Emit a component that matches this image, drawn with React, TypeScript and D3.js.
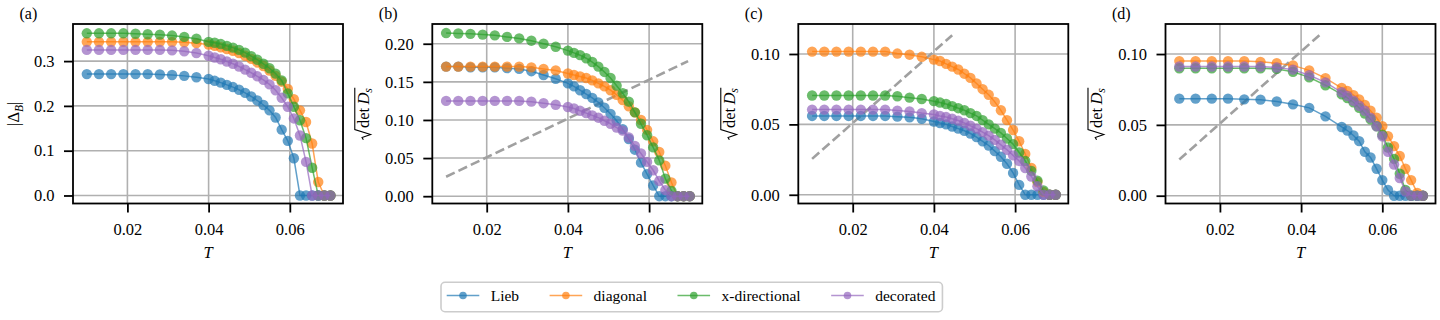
import { useEffect, useRef } from 'react'
import * as d3 from 'd3'

// temperature grids
const T_ABC = [0.01, 0.013, 0.016, 0.019, 0.022, 0.025, 0.028, 0.031, 0.034, 0.037,
  0.04, 0.0415, 0.043, 0.0445, 0.046, 0.0475, 0.049, 0.0505, 0.052, 0.0535, 0.055,
  0.0565, 0.058, 0.0595, 0.061, 0.0625, 0.064, 0.0655, 0.067, 0.0685, 0.07]
const T_D = [0.01, 0.014, 0.018, 0.022, 0.026, 0.03, 0.034, 0.038, 0.042, 0.046,
  0.05, 0.0514, 0.0529, 0.0543, 0.0557, 0.0571, 0.0586, 0.06, 0.0614, 0.0629, 0.0643,
  0.0657, 0.0671, 0.0686, 0.07]

// (a) |Delta_B|
const A_LIEB = [0.271, 0.271, 0.271, 0.271, 0.271, 0.271, 0.27, 0.269, 0.267, 0.264,
  0.26, 0.256, 0.252, 0.247, 0.242, 0.236, 0.229, 0.221, 0.212, 0.202, 0.19, 0.174, 0.147, 0.122, 0.083,
  0, 0, 0, 0, 0, 0]
const A_DIAG = [0.343, 0.343, 0.343, 0.343, 0.343, 0.343, 0.343, 0.343, 0.342, 0.34,
  0.337, 0.334, 0.331, 0.327, 0.323, 0.318, 0.312, 0.305, 0.297, 0.289, 0.279, 0.267, 0.254, 0.238,
  0.215, 0.19, 0.164, 0.116, 0.03, 0, 0]
const A_XDIR = [0.362, 0.362, 0.362, 0.362, 0.361, 0.36, 0.359, 0.357, 0.354, 0.35,
  0.343, 0.341, 0.338, 0.334, 0.33, 0.325, 0.319, 0.311, 0.303, 0.294, 0.284, 0.272, 0.257, 0.228,
  0.198, 0.168, 0.128, 0.062, 0, 0, 0]
const A_DECO = [0.325, 0.325, 0.325, 0.325, 0.325, 0.325, 0.325, 0.324, 0.322, 0.318,
  0.312, 0.308, 0.304, 0.299, 0.294, 0.288, 0.281, 0.274, 0.266, 0.258, 0.248, 0.235, 0.218, 0.198,
  0.172, 0.134, 0.075, 0, 0, 0, 0]

// (b) sqrt det D_s
const B_LIEB = [0.17, 0.17, 0.169, 0.169, 0.169, 0.168, 0.167, 0.164, 0.159, 0.154,
  0.148, 0.144, 0.139, 0.134, 0.129, 0.123, 0.116, 0.108, 0.099, 0.088, 0.075, 0.061, 0.044, 0.029, 0.014,
  0, 0, 0, 0, 0, 0]
const B_DIAG = [0.17, 0.17, 0.17, 0.17, 0.17, 0.17, 0.17, 0.169, 0.167, 0.165,
  0.161, 0.159, 0.157, 0.155, 0.152, 0.148, 0.144, 0.139, 0.133, 0.126, 0.118, 0.11, 0.1, 0.087,
  0.072, 0.058, 0.04, 0.018, 0, 0, 0]
const B_XDIR = [0.214, 0.2135, 0.213, 0.212, 0.211, 0.209, 0.207, 0.204, 0.2, 0.196,
  0.191, 0.188, 0.185, 0.181, 0.176, 0.17, 0.163, 0.155, 0.145, 0.135, 0.124, 0.11, 0.095, 0.08,
  0.064, 0.047, 0.023, 0.007, 0, 0, 0]
const B_DECO = [0.125, 0.125, 0.125, 0.125, 0.125, 0.125, 0.125, 0.124, 0.122, 0.12,
  0.117, 0.115, 0.112, 0.109, 0.106, 0.103, 0.099, 0.095, 0.09, 0.086, 0.077, 0.066, 0.056, 0.045,
  0.034, 0.02, 0.008, 0, 0, 0, 0]

// (c)
const C_LIEB = [0.056, 0.056, 0.056, 0.056, 0.056, 0.056, 0.056, 0.0555, 0.055, 0.054,
  0.052, 0.051, 0.05, 0.0485, 0.047, 0.0455, 0.0435, 0.041, 0.038, 0.035, 0.031, 0.027, 0.022, 0.0155, 0.007,
  0, 0, 0, 0, 0, 0]
const C_DIAG = [0.1017, 0.1017, 0.1017, 0.1017, 0.1017, 0.1017, 0.1017, 0.1003, 0.0995, 0.098,
  0.096, 0.095, 0.093, 0.091, 0.089, 0.086, 0.083, 0.079, 0.075, 0.071, 0.066, 0.06, 0.053, 0.046,
  0.038, 0.029, 0.019, 0.009, 0.002, 0, 0]
const C_XDIR = [0.0705, 0.0705, 0.0705, 0.0705, 0.0705, 0.0705, 0.0705, 0.07, 0.069, 0.068,
  0.0665, 0.0655, 0.0645, 0.063, 0.0615, 0.06, 0.058, 0.056, 0.053, 0.05, 0.047, 0.044, 0.04, 0.036,
  0.03, 0.024, 0.017, 0.01, 0.003, 0, 0]
const C_DECO = [0.0605, 0.0605, 0.0605, 0.0605, 0.0605, 0.0605, 0.0605, 0.0598, 0.0592, 0.058,
  0.057, 0.056, 0.0552, 0.054, 0.0527, 0.051, 0.049, 0.047, 0.0445, 0.042, 0.039, 0.0355, 0.032, 0.028,
  0.024, 0.019, 0.013, 0.006, 0, 0, 0]

// (d)
const D_LIEB = [0.0685, 0.0685, 0.0685, 0.0685, 0.068, 0.0678, 0.0665, 0.0645, 0.062, 0.056,
  0.0485, 0.046, 0.0425, 0.0385, 0.031, 0.027, 0.019, 0.011, 0.004, 0, 0, 0, 0, 0, 0]
const D_DIAG = [0.095, 0.095, 0.095, 0.095, 0.095, 0.0945, 0.0935, 0.092, 0.0885, 0.083,
  0.076, 0.074, 0.071, 0.068, 0.064, 0.06, 0.055, 0.049, 0.042, 0.035, 0.028, 0.019, 0.011, 0.002, 0]
const D_XDIR = [0.09, 0.09, 0.09, 0.09, 0.09, 0.09, 0.0895, 0.0875, 0.0835, 0.078,
  0.0715, 0.069, 0.066, 0.062, 0.058, 0.054, 0.049, 0.043, 0.034, 0.026, 0.0155, 0.004, 0, 0, 0]
const D_DECO = [0.0912, 0.0912, 0.0912, 0.0912, 0.0912, 0.0912, 0.0905, 0.089, 0.085, 0.08,
  0.073, 0.0705, 0.067, 0.0635, 0.06, 0.055, 0.049, 0.042, 0.031, 0.022, 0.0125, 0.003, 0, 0, 0]

// BKT line sqrt(det Ds) = 8T/pi, endpoints
const BKT_LONG_T = [0.01, 0.0696]
const BKT_LONG_Y = [0.0255, 0.1772]
const BKT_SHORT_T = [0.01, 0.0445]
const BKT_SHORT_Y = [0.0255, 0.1133]

const SERIES_NAMES = ['Lieb', 'diagonal', 'x-directional', 'decorated']
const COLORS = ['#1f77b4', '#ff7f0e', '#2ca02c', '#9467bd']
const X_TICKS = [0.02, 0.04, 0.06]

const FONT = "'Liberation Serif', 'Times New Roman', 'DejaVu Serif', serif"
const FS = 16.5
const AX_TOP = 24
const AX_BOTTOM = 203.5
const AX_W = 270
const X_DOMAIN = [0.0066, 0.0731]

const PANELS = [
  { tag: '(a)', left: 73, T: T_ABC, ys: [A_LIEB, A_DIAG, A_XDIR, A_DECO], yDomain: [-0.0179, 0.3828],
    yTicks: [0, 0.1, 0.2, 0.3], fmt: '.1f', label: 'delta', bktT: null, bktY: null },
  { tag: '(b)', left: 432.3, T: T_ABC, ys: [B_LIEB, B_DIAG, B_XDIR, B_DECO], yDomain: [-0.0096, 0.2259],
    yTicks: [0, 0.05, 0.1, 0.15, 0.2], fmt: '.2f', label: 'sqrt', bktT: BKT_LONG_T, bktY: BKT_LONG_Y },
  { tag: '(c)', left: 798.3, T: T_ABC, ys: [C_LIEB, C_DIAG, C_XDIR, C_DECO], yDomain: [-0.0062, 0.1213],
    yTicks: [0, 0.05, 0.1], fmt: '.2f', label: 'sqrt', bktT: BKT_SHORT_T, bktY: BKT_SHORT_Y },
  { tag: '(d)', left: 1165.5, T: T_D, ys: [D_LIEB, D_DIAG, D_XDIR, D_DECO], yDomain: [-0.0055, 0.1212],
    yTicks: [0, 0.05, 0.1], fmt: '.2f', label: 'sqrt', bktT: BKT_SHORT_T, bktY: BKT_SHORT_Y },
]

function drawPanel(svg: any, p: any) {
  const x = d3.scaleLinear().domain(X_DOMAIN).range([p.left, p.left + AX_W])
  const y = d3.scaleLinear().domain(p.yDomain).range([AX_BOTTOM, AX_TOP])
  const g = svg.append('g')

  // grid
  g.append('g').selectAll('line').data(X_TICKS).join('line')
    .attr('x1', (d: number) => x(d)).attr('x2', (d: number) => x(d))
    .attr('y1', AX_TOP).attr('y2', AX_BOTTOM)
    .attr('stroke', '#b0b0b0').attr('stroke-width', 1.6)
  g.append('g').selectAll('line').data(p.yTicks).join('line')
    .attr('x1', p.left).attr('x2', p.left + AX_W)
    .attr('y1', (d: number) => y(d)).attr('y2', (d: number) => y(d))
    .attr('stroke', '#b0b0b0').attr('stroke-width', 1.6)

  // BKT dashed line
  if (p.bktT) {
    const pts = p.bktT.map((t: number, i: number) => [t, p.bktY[i]])
    g.append('path')
      .attr('d', d3.line().x((d: any) => x(d[0])).y((d: any) => y(d[1]))(pts))
      .attr('fill', 'none').attr('stroke', '#a0a0a0').attr('stroke-width', 2.6)
      .attr('stroke-dasharray', '9.5,4.2')
  }

  // series
  p.ys.forEach((vals: number[], i: number) => {
    const pts = p.T.map((t: number, j: number) => [t, vals[j]])
    g.append('path')
      .attr('d', d3.line().x((d: any) => x(d[0])).y((d: any) => y(d[1]))(pts))
      .attr('fill', 'none').attr('stroke', COLORS[i]).attr('stroke-width', 1.5)
      .attr('stroke-opacity', 0.7)
    g.append('g').selectAll('circle').data(pts).join('circle')
      .attr('cx', (d: any) => x(d[0])).attr('cy', (d: any) => y(d[1]))
      .attr('r', 5.2).attr('fill', COLORS[i]).attr('fill-opacity', 0.7)
  })

  // frame
  g.append('rect').attr('x', p.left).attr('y', AX_TOP)
    .attr('width', AX_W).attr('height', AX_BOTTOM - AX_TOP)
    .attr('fill', 'none').attr('stroke', '#000').attr('stroke-width', 1.8)

  // axes
  const xa = g.append('g').attr('transform', `translate(0,${AX_BOTTOM})`)
    .call(d3.axisBottom(x).tickValues(X_TICKS).tickFormat(d3.format('.2f'))
      .tickSizeInner(9).tickSizeOuter(0).tickPadding(11))
  xa.select('.domain').remove()
  xa.selectAll('line').attr('stroke-width', 1.8)
  xa.selectAll('text').attr('font-size', FS).attr('font-family', FONT).attr('fill', '#000')

  const ya = g.append('g').attr('transform', `translate(${p.left},0)`)
    .call(d3.axisLeft(y).tickValues(p.yTicks).tickFormat(d3.format(p.fmt))
      .tickSizeInner(9).tickSizeOuter(0).tickPadding(9.5))
  ya.select('.domain').remove()
  ya.selectAll('line').attr('stroke-width', 1.8)
  ya.selectAll('text').attr('font-size', FS).attr('font-family', FONT).attr('fill', '#000')

  // leftmost edge of tick labels
  let minX = Infinity
  ya.selectAll('text').each(function (this: any) {
    const b = this.getBBox()
    minX = Math.min(minX, b.x)
  })
  const labelRight = p.left + minX - 11

  // x label
  g.append('text').attr('x', p.left + AX_W / 2).attr('y', 258)
    .attr('text-anchor', 'middle').attr('font-size', FS).attr('font-style', 'italic')
    .attr('font-family', FONT).text('T')

  // panel tag
  g.append('text').attr('x', p.left - 53.5).attr('y', 19)
    .attr('font-size', 16).attr('font-family', FONT).text(p.tag)

  // y label
  const cy = (AX_TOP + AX_BOTTOM) / 2
  if (p.label === 'delta') {
    const lg = g.append('g')
    const t = lg.append('text').attr('font-size', FS).attr('font-family', FONT)
    t.append('tspan').text('|Δ')
    t.append('tspan').attr('font-style', 'italic').attr('font-size', FS * 0.7).attr('dy', FS * 0.22).text('B')
    t.append('tspan').attr('dy', -FS * 0.22).text('|')
    const w = t.node().getComputedTextLength()
    const cx = labelRight - FS * 0.22
    lg.attr('transform', `translate(${cx},${cy}) rotate(-90) translate(${-w / 2},0)`)
  } else {
    const lg = g.append('g')
    const rad = FS * 0.62
    const t = lg.append('text').attr('x', rad + 1.5).attr('font-size', FS).attr('font-family', FONT)
    t.append('tspan').text('det\u2009')
    t.append('tspan').attr('font-style', 'italic').text('D')
    t.append('tspan').attr('font-style', 'italic').attr('font-size', FS * 0.7).attr('dy', FS * 0.2).text('s')
    const w = t.node().getComputedTextLength()
    const top = -FS * 0.84
    lg.append('path')
      .attr('d', `M0,${-FS * 0.32} L${rad * 0.22},${-FS * 0.4} L${rad * 0.52},${FS * 0.12} L${rad},${top} H${rad + 2 + w}`)
      .attr('fill', 'none').attr('stroke', '#000').attr('stroke-width', 1.1)
    const total = rad + 2 + w
    const cx = labelRight - FS * 0.32
    lg.attr('transform', `translate(${cx},${cy}) rotate(-90) translate(${-total / 2},0)`)
  }
}

function drawLegend(svg: any) {
  const g = svg.append('g')
  const box = g.append('rect')
  const cy = 295.5
  let cx = 446.7
  SERIES_NAMES.forEach((name, i) => {
    g.append('line').attr('x1', cx).attr('x2', cx + 32.6).attr('y1', cy).attr('y2', cy)
      .attr('stroke', COLORS[i]).attr('stroke-width', 1.5).attr('stroke-opacity', 0.7)
    g.append('circle').attr('cx', cx + 16.3).attr('cy', cy).attr('r', 3.8)
      .attr('fill', COLORS[i]).attr('fill-opacity', 0.7)
    const t = g.append('text').attr('x', cx + 44).attr('y', cy + 5.3)
      .attr('font-size', 15.5).attr('font-family', FONT).text(name)
    const w = t.node().getComputedTextLength()
    cx = cx + 44 + w + 30.5
  })
  const right = cx - 30.5 + 7
  box.attr('x', 441).attr('y', 282.3).attr('width', right - 441).attr('height', 29.4)
    .attr('rx', 4).attr('fill', '#fff').attr('stroke', '#cccccc').attr('stroke-width', 1.6)
}

export default function App() {
  const svgRef = useRef<SVGSVGElement>(null)

  useEffect(() => {
    document.body.style.margin = '0'
    const svg = d3.select(svgRef.current)
    svg.selectAll('*').remove()
    PANELS.forEach(p => drawPanel(svg, p))
    drawLegend(svg)
  }, [])

  return (
    <svg ref={svgRef} width={1440} height={320}
      style={{ display: 'block', background: '#fff', fontFamily: FONT }} />
  )
}
